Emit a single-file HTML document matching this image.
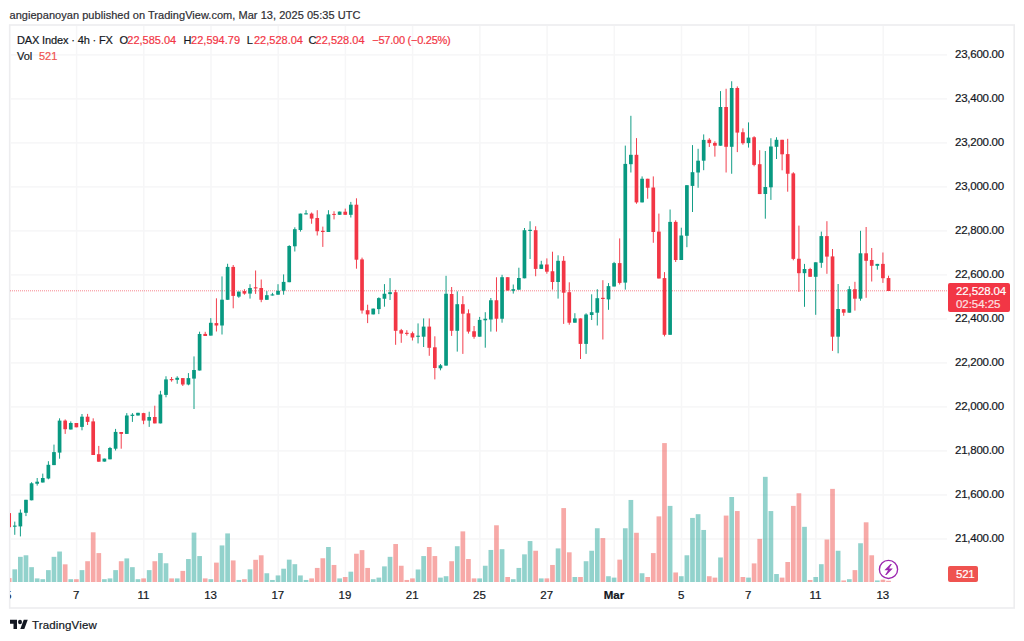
<!DOCTYPE html>
<html><head><meta charset="utf-8"><title>DAX Index chart</title>
<style>
html,body{margin:0;padding:0;background:#fff;}
body{width:1024px;height:641px;position:relative;overflow:hidden;font-family:"Liberation Sans",sans-serif;color:#131722;font-size:12px;-webkit-text-stroke:0.2px;}
.hdr{position:absolute;left:9.5px;top:6.6px;font-size:11px;line-height:16px;white-space:nowrap;color:#2e2e33;letter-spacing:0.04px;}
.box{position:absolute;left:9px;top:25px;width:1005px;height:582px;border:1px solid #e0e3eb;box-sizing:content-box;}
svg{position:absolute;left:0;top:0;}
.clip{position:absolute;left:10px;top:26px;width:937px;height:582px;overflow:hidden;}
.clip svg{left:-10px;top:-26px;}
.leg{position:absolute;left:17px;white-space:nowrap;font-size:11px;line-height:16px;color:#131722;}
.leg.r{color:#f23645;}
.pl{position:absolute;left:955px;width:51px;text-align:left;font-size:11.5px;letter-spacing:-0.25px;line-height:16px;height:16px;white-space:nowrap;}
.tl{position:absolute;top:587px;width:60px;text-align:center;font-size:11.5px;line-height:16px;white-space:nowrap;}
.tl.b{font-weight:bold;}
.ptag{position:absolute;left:948px;top:283px;width:61.7px;height:29px;background:#f23645;border-radius:2px;color:#fff;font-size:11.5px;letter-spacing:-0.25px;line-height:14px;}
.ptag div{position:absolute;left:8px;white-space:nowrap;}
.vtag{position:absolute;left:948px;top:566px;width:30px;height:16px;background:#ef5350;border-radius:2px;color:#fff;font-size:11.5px;letter-spacing:-0.25px;line-height:16px;}
.vtag div{position:absolute;left:8px;top:0;}
.logo{position:absolute;left:10px;top:616px;height:18px;}
.logotxt{position:absolute;left:32px;top:616.1px;font-size:11.5px;letter-spacing:0.15px;line-height:18px;color:#131722;white-space:nowrap;}
</style></head><body>
<div class="hdr">angiepanoyan published on TradingView.com, Mar 13, 2025 05:35 UTC</div>
<svg width="1024" height="641" style="left:0;top:0"><rect x="9.7" y="25" width="1004.5" height="583" fill="none" stroke="#ededef" stroke-width="1.6"/></svg>
<div class="clip"><svg width="1024" height="641" viewBox="0 0 1024 641">
<rect x="10" y="54.12" width="937.2" height="1.5" fill="#f6f6f7"/>
<rect x="10" y="98.13" width="937.2" height="1.5" fill="#f6f6f7"/>
<rect x="10" y="142.14" width="937.2" height="1.5" fill="#f6f6f7"/>
<rect x="10" y="186.14" width="937.2" height="1.5" fill="#f6f6f7"/>
<rect x="10" y="230.15" width="937.2" height="1.5" fill="#f6f6f7"/>
<rect x="10" y="274.16" width="937.2" height="1.5" fill="#f6f6f7"/>
<rect x="10" y="318.17" width="937.2" height="1.5" fill="#f6f6f7"/>
<rect x="10" y="362.18" width="937.2" height="1.5" fill="#f6f6f7"/>
<rect x="10" y="406.18" width="937.2" height="1.5" fill="#f6f6f7"/>
<rect x="10" y="450.19" width="937.2" height="1.5" fill="#f6f6f7"/>
<rect x="10" y="494.20" width="937.2" height="1.5" fill="#f6f6f7"/>
<rect x="10" y="538.21" width="937.2" height="1.5" fill="#f6f6f7"/>
<rect x="75.81" y="26" width="1.5" height="556.5" fill="#f6f6f7"/>
<rect x="143.03" y="26" width="1.5" height="556.5" fill="#f6f6f7"/>
<rect x="210.24" y="26" width="1.5" height="556.5" fill="#f6f6f7"/>
<rect x="277.46" y="26" width="1.5" height="556.5" fill="#f6f6f7"/>
<rect x="344.68" y="26" width="1.5" height="556.5" fill="#f6f6f7"/>
<rect x="411.89" y="26" width="1.5" height="556.5" fill="#f6f6f7"/>
<rect x="479.11" y="26" width="1.5" height="556.5" fill="#f6f6f7"/>
<rect x="546.33" y="26" width="1.5" height="556.5" fill="#f6f6f7"/>
<rect x="613.54" y="26" width="1.5" height="556.5" fill="#f6f6f7"/>
<rect x="680.76" y="26" width="1.5" height="556.5" fill="#f6f6f7"/>
<rect x="747.98" y="26" width="1.5" height="556.5" fill="#f6f6f7"/>
<rect x="815.19" y="26" width="1.5" height="556.5" fill="#f6f6f7"/>
<rect x="882.41" y="26" width="1.5" height="556.5" fill="#f6f6f7"/>
<rect x="6.82" y="578.09" width="4.7" height="3.91" fill="rgba(239,83,80,0.5)"/>
<rect x="12.42" y="569.34" width="4.7" height="12.66" fill="rgba(38,166,154,0.5)"/>
<rect x="18.02" y="556.84" width="4.7" height="25.16" fill="rgba(38,166,154,0.5)"/>
<rect x="23.62" y="555.28" width="4.7" height="26.72" fill="rgba(38,166,154,0.5)"/>
<rect x="29.22" y="567.16" width="4.7" height="14.84" fill="rgba(38,166,154,0.5)"/>
<rect x="34.82" y="578.41" width="4.7" height="3.59" fill="rgba(38,166,154,0.5)"/>
<rect x="40.43" y="579.19" width="4.7" height="2.81" fill="rgba(38,166,154,0.5)"/>
<rect x="46.03" y="570.12" width="4.7" height="11.88" fill="rgba(38,166,154,0.5)"/>
<rect x="51.63" y="556.84" width="4.7" height="25.16" fill="rgba(38,166,154,0.5)"/>
<rect x="57.23" y="551.53" width="4.7" height="30.47" fill="rgba(38,166,154,0.5)"/>
<rect x="62.83" y="564.34" width="4.7" height="17.66" fill="rgba(239,83,80,0.5)"/>
<rect x="68.43" y="579.19" width="4.7" height="2.81" fill="rgba(38,166,154,0.5)"/>
<rect x="74.03" y="579.19" width="4.7" height="2.81" fill="rgba(239,83,80,0.5)"/>
<rect x="79.63" y="570.12" width="4.7" height="11.88" fill="rgba(38,166,154,0.5)"/>
<rect x="85.23" y="561.22" width="4.7" height="20.78" fill="rgba(239,83,80,0.5)"/>
<rect x="90.84" y="532.31" width="4.7" height="49.69" fill="rgba(239,83,80,0.5)"/>
<rect x="96.44" y="553.09" width="4.7" height="28.91" fill="rgba(239,83,80,0.5)"/>
<rect x="102.04" y="579.19" width="4.7" height="2.81" fill="rgba(38,166,154,0.5)"/>
<rect x="107.64" y="578.41" width="4.7" height="3.59" fill="rgba(38,166,154,0.5)"/>
<rect x="113.24" y="570.12" width="4.7" height="11.88" fill="rgba(38,166,154,0.5)"/>
<rect x="118.84" y="561.22" width="4.7" height="20.78" fill="rgba(239,83,80,0.5)"/>
<rect x="124.44" y="558.41" width="4.7" height="23.59" fill="rgba(38,166,154,0.5)"/>
<rect x="130.04" y="567.16" width="4.7" height="14.84" fill="rgba(38,166,154,0.5)"/>
<rect x="135.64" y="579.19" width="4.7" height="2.81" fill="rgba(38,166,154,0.5)"/>
<rect x="141.24" y="578.41" width="4.7" height="3.59" fill="rgba(239,83,80,0.5)"/>
<rect x="146.84" y="570.12" width="4.7" height="11.88" fill="rgba(38,166,154,0.5)"/>
<rect x="152.45" y="561.22" width="4.7" height="20.78" fill="rgba(239,83,80,0.5)"/>
<rect x="158.05" y="553.09" width="4.7" height="28.91" fill="rgba(38,166,154,0.5)"/>
<rect x="163.65" y="563.25" width="4.7" height="18.75" fill="rgba(38,166,154,0.5)"/>
<rect x="169.25" y="578.41" width="4.7" height="3.59" fill="rgba(239,83,80,0.5)"/>
<rect x="174.85" y="578.41" width="4.7" height="3.59" fill="rgba(38,166,154,0.5)"/>
<rect x="180.45" y="570.91" width="4.7" height="11.09" fill="rgba(239,83,80,0.5)"/>
<rect x="186.05" y="559.03" width="4.7" height="22.97" fill="rgba(38,166,154,0.5)"/>
<rect x="191.65" y="532.62" width="4.7" height="49.38" fill="rgba(38,166,154,0.5)"/>
<rect x="197.25" y="556.06" width="4.7" height="25.94" fill="rgba(38,166,154,0.5)"/>
<rect x="202.85" y="578.41" width="4.7" height="3.59" fill="rgba(239,83,80,0.5)"/>
<rect x="208.46" y="579.19" width="4.7" height="2.81" fill="rgba(38,166,154,0.5)"/>
<rect x="214.06" y="562.62" width="4.7" height="19.38" fill="rgba(239,83,80,0.5)"/>
<rect x="219.66" y="545.44" width="4.7" height="36.56" fill="rgba(38,166,154,0.5)"/>
<rect x="225.26" y="533.41" width="4.7" height="48.59" fill="rgba(38,166,154,0.5)"/>
<rect x="230.86" y="560.44" width="4.7" height="21.56" fill="rgba(239,83,80,0.5)"/>
<rect x="236.46" y="579.97" width="4.7" height="2.03" fill="rgba(38,166,154,0.5)"/>
<rect x="242.06" y="579.19" width="4.7" height="2.81" fill="rgba(239,83,80,0.5)"/>
<rect x="247.66" y="569.34" width="4.7" height="12.66" fill="rgba(38,166,154,0.5)"/>
<rect x="253.26" y="559.81" width="4.7" height="22.19" fill="rgba(239,83,80,0.5)"/>
<rect x="258.86" y="555.28" width="4.7" height="26.72" fill="rgba(239,83,80,0.5)"/>
<rect x="264.47" y="573.25" width="4.7" height="8.75" fill="rgba(38,166,154,0.5)"/>
<rect x="270.07" y="579.97" width="4.7" height="2.03" fill="rgba(38,166,154,0.5)"/>
<rect x="275.67" y="575.44" width="4.7" height="6.56" fill="rgba(38,166,154,0.5)"/>
<rect x="281.27" y="568.72" width="4.7" height="13.28" fill="rgba(38,166,154,0.5)"/>
<rect x="286.87" y="559.66" width="4.7" height="22.34" fill="rgba(38,166,154,0.5)"/>
<rect x="292.47" y="564.19" width="4.7" height="17.81" fill="rgba(38,166,154,0.5)"/>
<rect x="298.07" y="575.44" width="4.7" height="6.56" fill="rgba(38,166,154,0.5)"/>
<rect x="303.67" y="579.97" width="4.7" height="2.03" fill="rgba(38,166,154,0.5)"/>
<rect x="309.27" y="578.41" width="4.7" height="3.59" fill="rgba(239,83,80,0.5)"/>
<rect x="314.88" y="567.94" width="4.7" height="14.06" fill="rgba(239,83,80,0.5)"/>
<rect x="320.48" y="558.25" width="4.7" height="23.75" fill="rgba(239,83,80,0.5)"/>
<rect x="326.08" y="547.00" width="4.7" height="35.00" fill="rgba(38,166,154,0.5)"/>
<rect x="331.68" y="564.97" width="4.7" height="17.03" fill="rgba(239,83,80,0.5)"/>
<rect x="337.28" y="578.41" width="4.7" height="3.59" fill="rgba(38,166,154,0.5)"/>
<rect x="342.88" y="577.00" width="4.7" height="5.00" fill="rgba(239,83,80,0.5)"/>
<rect x="348.48" y="571.69" width="4.7" height="10.31" fill="rgba(38,166,154,0.5)"/>
<rect x="354.08" y="553.72" width="4.7" height="28.28" fill="rgba(239,83,80,0.5)"/>
<rect x="359.68" y="550.12" width="4.7" height="31.88" fill="rgba(239,83,80,0.5)"/>
<rect x="365.28" y="567.94" width="4.7" height="14.06" fill="rgba(239,83,80,0.5)"/>
<rect x="370.88" y="579.19" width="4.7" height="2.81" fill="rgba(38,166,154,0.5)"/>
<rect x="376.49" y="577.62" width="4.7" height="4.38" fill="rgba(38,166,154,0.5)"/>
<rect x="382.09" y="566.38" width="4.7" height="15.62" fill="rgba(38,166,154,0.5)"/>
<rect x="387.69" y="556.84" width="4.7" height="25.16" fill="rgba(38,166,154,0.5)"/>
<rect x="393.29" y="544.03" width="4.7" height="37.97" fill="rgba(239,83,80,0.5)"/>
<rect x="398.89" y="565.75" width="4.7" height="16.25" fill="rgba(239,83,80,0.5)"/>
<rect x="404.49" y="579.97" width="4.7" height="2.03" fill="rgba(239,83,80,0.5)"/>
<rect x="410.09" y="578.41" width="4.7" height="3.59" fill="rgba(239,83,80,0.5)"/>
<rect x="415.69" y="569.50" width="4.7" height="12.50" fill="rgba(38,166,154,0.5)"/>
<rect x="421.29" y="556.06" width="4.7" height="25.94" fill="rgba(38,166,154,0.5)"/>
<rect x="426.89" y="547.00" width="4.7" height="35.00" fill="rgba(239,83,80,0.5)"/>
<rect x="432.50" y="556.06" width="4.7" height="25.94" fill="rgba(239,83,80,0.5)"/>
<rect x="438.10" y="577.62" width="4.7" height="4.38" fill="rgba(38,166,154,0.5)"/>
<rect x="443.70" y="576.22" width="4.7" height="5.78" fill="rgba(38,166,154,0.5)"/>
<rect x="449.30" y="561.22" width="4.7" height="20.78" fill="rgba(239,83,80,0.5)"/>
<rect x="454.90" y="546.22" width="4.7" height="35.78" fill="rgba(38,166,154,0.5)"/>
<rect x="460.50" y="531.38" width="4.7" height="50.62" fill="rgba(239,83,80,0.5)"/>
<rect x="466.10" y="559.03" width="4.7" height="22.97" fill="rgba(239,83,80,0.5)"/>
<rect x="471.70" y="578.41" width="4.7" height="3.59" fill="rgba(239,83,80,0.5)"/>
<rect x="477.30" y="578.41" width="4.7" height="3.59" fill="rgba(38,166,154,0.5)"/>
<rect x="482.90" y="565.75" width="4.7" height="16.25" fill="rgba(38,166,154,0.5)"/>
<rect x="488.51" y="549.97" width="4.7" height="32.03" fill="rgba(38,166,154,0.5)"/>
<rect x="494.11" y="525.28" width="4.7" height="56.72" fill="rgba(239,83,80,0.5)"/>
<rect x="499.71" y="549.19" width="4.7" height="32.81" fill="rgba(38,166,154,0.5)"/>
<rect x="505.31" y="577.00" width="4.7" height="5.00" fill="rgba(239,83,80,0.5)"/>
<rect x="510.91" y="579.19" width="4.7" height="2.81" fill="rgba(38,166,154,0.5)"/>
<rect x="516.51" y="567.94" width="4.7" height="14.06" fill="rgba(38,166,154,0.5)"/>
<rect x="522.11" y="554.34" width="4.7" height="27.66" fill="rgba(38,166,154,0.5)"/>
<rect x="527.71" y="541.06" width="4.7" height="40.94" fill="rgba(38,166,154,0.5)"/>
<rect x="533.31" y="550.75" width="4.7" height="31.25" fill="rgba(239,83,80,0.5)"/>
<rect x="538.91" y="578.41" width="4.7" height="3.59" fill="rgba(38,166,154,0.5)"/>
<rect x="544.52" y="578.41" width="4.7" height="3.59" fill="rgba(239,83,80,0.5)"/>
<rect x="550.12" y="564.97" width="4.7" height="17.03" fill="rgba(239,83,80,0.5)"/>
<rect x="555.72" y="548.41" width="4.7" height="33.59" fill="rgba(38,166,154,0.5)"/>
<rect x="561.32" y="508.09" width="4.7" height="73.91" fill="rgba(239,83,80,0.5)"/>
<rect x="566.92" y="552.31" width="4.7" height="29.69" fill="rgba(239,83,80,0.5)"/>
<rect x="572.52" y="577.00" width="4.7" height="5.00" fill="rgba(38,166,154,0.5)"/>
<rect x="578.12" y="577.00" width="4.7" height="5.00" fill="rgba(239,83,80,0.5)"/>
<rect x="583.72" y="561.22" width="4.7" height="20.78" fill="rgba(38,166,154,0.5)"/>
<rect x="589.32" y="550.75" width="4.7" height="31.25" fill="rgba(38,166,154,0.5)"/>
<rect x="594.92" y="528.25" width="4.7" height="53.75" fill="rgba(38,166,154,0.5)"/>
<rect x="600.53" y="538.09" width="4.7" height="43.91" fill="rgba(239,83,80,0.5)"/>
<rect x="606.13" y="576.22" width="4.7" height="5.78" fill="rgba(38,166,154,0.5)"/>
<rect x="611.73" y="577.62" width="4.7" height="4.38" fill="rgba(38,166,154,0.5)"/>
<rect x="617.33" y="559.66" width="4.7" height="22.34" fill="rgba(239,83,80,0.5)"/>
<rect x="622.93" y="528.25" width="4.7" height="53.75" fill="rgba(38,166,154,0.5)"/>
<rect x="628.53" y="499.97" width="4.7" height="82.03" fill="rgba(38,166,154,0.5)"/>
<rect x="634.13" y="532.78" width="4.7" height="49.22" fill="rgba(239,83,80,0.5)"/>
<rect x="639.73" y="573.25" width="4.7" height="8.75" fill="rgba(38,166,154,0.5)"/>
<rect x="645.33" y="577.00" width="4.7" height="5.00" fill="rgba(239,83,80,0.5)"/>
<rect x="650.93" y="553.09" width="4.7" height="28.91" fill="rgba(239,83,80,0.5)"/>
<rect x="656.54" y="516.38" width="4.7" height="65.62" fill="rgba(239,83,80,0.5)"/>
<rect x="662.14" y="443.09" width="4.7" height="138.91" fill="rgba(239,83,80,0.5)"/>
<rect x="667.74" y="505.91" width="4.7" height="76.09" fill="rgba(38,166,154,0.5)"/>
<rect x="673.34" y="572.47" width="4.7" height="9.53" fill="rgba(239,83,80,0.5)"/>
<rect x="678.94" y="576.22" width="4.7" height="5.78" fill="rgba(38,166,154,0.5)"/>
<rect x="684.54" y="555.28" width="4.7" height="26.72" fill="rgba(38,166,154,0.5)"/>
<rect x="690.14" y="517.94" width="4.7" height="64.06" fill="rgba(38,166,154,0.5)"/>
<rect x="695.74" y="514.19" width="4.7" height="67.81" fill="rgba(38,166,154,0.5)"/>
<rect x="701.34" y="529.97" width="4.7" height="52.03" fill="rgba(38,166,154,0.5)"/>
<rect x="706.94" y="576.22" width="4.7" height="5.78" fill="rgba(239,83,80,0.5)"/>
<rect x="712.55" y="577.62" width="4.7" height="4.38" fill="rgba(239,83,80,0.5)"/>
<rect x="718.15" y="557.47" width="4.7" height="24.53" fill="rgba(38,166,154,0.5)"/>
<rect x="723.75" y="515.59" width="4.7" height="66.41" fill="rgba(239,83,80,0.5)"/>
<rect x="729.35" y="497.00" width="4.7" height="85.00" fill="rgba(38,166,154,0.5)"/>
<rect x="734.95" y="511.06" width="4.7" height="70.94" fill="rgba(239,83,80,0.5)"/>
<rect x="740.55" y="577.00" width="4.7" height="5.00" fill="rgba(239,83,80,0.5)"/>
<rect x="746.15" y="577.62" width="4.7" height="4.38" fill="rgba(38,166,154,0.5)"/>
<rect x="751.75" y="563.41" width="4.7" height="18.59" fill="rgba(239,83,80,0.5)"/>
<rect x="757.35" y="538.88" width="4.7" height="43.12" fill="rgba(239,83,80,0.5)"/>
<rect x="762.95" y="476.84" width="4.7" height="105.16" fill="rgba(38,166,154,0.5)"/>
<rect x="768.56" y="511.06" width="4.7" height="70.94" fill="rgba(38,166,154,0.5)"/>
<rect x="774.16" y="574.03" width="4.7" height="7.97" fill="rgba(38,166,154,0.5)"/>
<rect x="779.76" y="577.62" width="4.7" height="4.38" fill="rgba(239,83,80,0.5)"/>
<rect x="785.36" y="562.00" width="4.7" height="20.00" fill="rgba(239,83,80,0.5)"/>
<rect x="790.96" y="505.91" width="4.7" height="76.09" fill="rgba(239,83,80,0.5)"/>
<rect x="796.56" y="493.25" width="4.7" height="88.75" fill="rgba(239,83,80,0.5)"/>
<rect x="802.16" y="526.84" width="4.7" height="55.16" fill="rgba(38,166,154,0.5)"/>
<rect x="807.76" y="579.97" width="4.7" height="2.03" fill="rgba(239,83,80,0.5)"/>
<rect x="813.36" y="577.00" width="4.7" height="5.00" fill="rgba(38,166,154,0.5)"/>
<rect x="818.96" y="564.19" width="4.7" height="17.81" fill="rgba(38,166,154,0.5)"/>
<rect x="824.57" y="539.50" width="4.7" height="42.50" fill="rgba(239,83,80,0.5)"/>
<rect x="830.17" y="488.88" width="4.7" height="93.12" fill="rgba(239,83,80,0.5)"/>
<rect x="835.77" y="550.75" width="4.7" height="31.25" fill="rgba(38,166,154,0.5)"/>
<rect x="841.37" y="580.44" width="4.7" height="1.56" fill="rgba(239,83,80,0.5)"/>
<rect x="846.97" y="579.19" width="4.7" height="2.81" fill="rgba(38,166,154,0.5)"/>
<rect x="852.57" y="570.12" width="4.7" height="11.88" fill="rgba(239,83,80,0.5)"/>
<rect x="858.17" y="543.25" width="4.7" height="38.75" fill="rgba(38,166,154,0.5)"/>
<rect x="863.77" y="522.31" width="4.7" height="59.69" fill="rgba(239,83,80,0.5)"/>
<rect x="869.37" y="555.28" width="4.7" height="26.72" fill="rgba(239,83,80,0.5)"/>
<rect x="874.97" y="580.44" width="4.7" height="1.56" fill="rgba(38,166,154,0.5)"/>
<rect x="880.58" y="579.66" width="4.7" height="2.34" fill="rgba(239,83,80,0.5)"/>
<rect x="886.18" y="580.75" width="4.7" height="1.25" fill="rgba(239,83,80,0.5)"/>
<line x1="10" x2="947" y1="290.8" y2="290.8" stroke="#f23645" stroke-width="1" stroke-opacity="0.6" stroke-dasharray="1 1"/>
<rect x="8.70" y="513.10" width="0.95" height="14.10" fill="#f23645"/>
<rect x="7.32" y="513.10" width="3.7" height="14.10" fill="#f23645"/>
<rect x="14.30" y="521.60" width="0.95" height="13.20" fill="#089981"/>
<rect x="12.92" y="525.60" width="3.7" height="1.10" fill="#089981"/>
<rect x="19.90" y="509.50" width="0.95" height="26.90" fill="#089981"/>
<rect x="18.52" y="512.70" width="3.7" height="13.70" fill="#089981"/>
<rect x="25.50" y="499.80" width="0.95" height="16.30" fill="#089981"/>
<rect x="24.12" y="499.80" width="3.7" height="13.00" fill="#089981"/>
<rect x="31.10" y="482.20" width="0.95" height="18.10" fill="#089981"/>
<rect x="29.72" y="483.30" width="3.7" height="17.00" fill="#089981"/>
<rect x="36.70" y="478.00" width="0.95" height="7.60" fill="#089981"/>
<rect x="35.32" y="481.70" width="3.7" height="2.05" fill="#089981"/>
<rect x="42.30" y="473.60" width="0.95" height="8.90" fill="#089981"/>
<rect x="40.93" y="478.00" width="3.7" height="4.50" fill="#089981"/>
<rect x="47.90" y="461.20" width="0.95" height="18.10" fill="#089981"/>
<rect x="46.53" y="464.80" width="3.7" height="13.70" fill="#089981"/>
<rect x="53.50" y="444.60" width="0.95" height="20.50" fill="#089981"/>
<rect x="52.13" y="452.10" width="3.7" height="13.00" fill="#089981"/>
<rect x="59.10" y="418.30" width="0.95" height="40.40" fill="#089981"/>
<rect x="57.73" y="420.60" width="3.7" height="32.00" fill="#089981"/>
<rect x="64.70" y="419.40" width="0.95" height="14.50" fill="#f23645"/>
<rect x="63.33" y="420.60" width="3.7" height="8.60" fill="#f23645"/>
<rect x="70.31" y="421.40" width="0.95" height="8.10" fill="#089981"/>
<rect x="68.93" y="423.00" width="3.7" height="6.50" fill="#089981"/>
<rect x="75.91" y="423.00" width="0.95" height="4.30" fill="#f23645"/>
<rect x="74.53" y="423.00" width="3.7" height="4.30" fill="#f23645"/>
<rect x="81.51" y="414.00" width="0.95" height="16.30" fill="#089981"/>
<rect x="80.13" y="416.70" width="3.7" height="10.20" fill="#089981"/>
<rect x="87.11" y="413.90" width="0.95" height="11.10" fill="#f23645"/>
<rect x="85.73" y="416.70" width="3.7" height="5.20" fill="#f23645"/>
<rect x="92.71" y="418.30" width="0.95" height="36.70" fill="#f23645"/>
<rect x="91.34" y="421.40" width="3.7" height="33.60" fill="#f23645"/>
<rect x="98.31" y="445.90" width="0.95" height="15.80" fill="#f23645"/>
<rect x="96.94" y="454.20" width="3.7" height="7.50" fill="#f23645"/>
<rect x="103.91" y="458.60" width="0.95" height="3.00" fill="#089981"/>
<rect x="102.54" y="458.60" width="3.7" height="3.00" fill="#089981"/>
<rect x="109.51" y="446.90" width="0.95" height="12.40" fill="#089981"/>
<rect x="108.14" y="448.00" width="3.7" height="11.30" fill="#089981"/>
<rect x="115.11" y="428.90" width="0.95" height="21.60" fill="#089981"/>
<rect x="113.74" y="431.90" width="3.7" height="16.80" fill="#089981"/>
<rect x="120.72" y="432.00" width="0.95" height="16.70" fill="#f23645"/>
<rect x="119.34" y="432.00" width="3.7" height="1.90" fill="#f23645"/>
<rect x="126.32" y="413.10" width="0.95" height="20.80" fill="#089981"/>
<rect x="124.94" y="415.50" width="3.7" height="18.40" fill="#089981"/>
<rect x="131.92" y="413.10" width="0.95" height="8.80" fill="#089981"/>
<rect x="130.54" y="414.70" width="3.7" height="1.20" fill="#089981"/>
<rect x="137.52" y="412.80" width="0.95" height="2.70" fill="#089981"/>
<rect x="136.14" y="412.80" width="3.7" height="2.70" fill="#089981"/>
<rect x="143.12" y="412.80" width="0.95" height="11.40" fill="#f23645"/>
<rect x="141.74" y="413.10" width="3.7" height="7.50" fill="#f23645"/>
<rect x="148.72" y="411.70" width="0.95" height="15.20" fill="#089981"/>
<rect x="147.34" y="417.00" width="3.7" height="3.60" fill="#089981"/>
<rect x="154.32" y="405.70" width="0.95" height="17.70" fill="#f23645"/>
<rect x="152.95" y="417.00" width="3.7" height="6.40" fill="#f23645"/>
<rect x="159.92" y="390.80" width="0.95" height="32.60" fill="#089981"/>
<rect x="158.55" y="394.50" width="3.7" height="28.90" fill="#089981"/>
<rect x="165.52" y="376.25" width="0.95" height="21.05" fill="#089981"/>
<rect x="164.15" y="379.40" width="3.7" height="15.50" fill="#089981"/>
<rect x="171.12" y="377.00" width="0.95" height="4.70" fill="#f23645"/>
<rect x="169.75" y="379.00" width="3.7" height="1.20" fill="#f23645"/>
<rect x="176.72" y="376.25" width="0.95" height="7.50" fill="#089981"/>
<rect x="175.35" y="377.80" width="3.7" height="2.00" fill="#089981"/>
<rect x="182.33" y="378.10" width="0.95" height="7.90" fill="#f23645"/>
<rect x="180.95" y="378.10" width="3.7" height="6.40" fill="#f23645"/>
<rect x="187.93" y="373.10" width="0.95" height="12.20" fill="#089981"/>
<rect x="186.55" y="378.10" width="3.7" height="6.40" fill="#089981"/>
<rect x="193.53" y="356.40" width="0.95" height="52.60" fill="#089981"/>
<rect x="192.15" y="370.00" width="3.7" height="8.60" fill="#089981"/>
<rect x="199.13" y="331.70" width="0.95" height="38.80" fill="#089981"/>
<rect x="197.75" y="334.00" width="3.7" height="36.50" fill="#089981"/>
<rect x="204.73" y="331.80" width="0.95" height="4.20" fill="#f23645"/>
<rect x="203.35" y="333.90" width="3.7" height="2.10" fill="#f23645"/>
<rect x="210.33" y="318.10" width="0.95" height="17.50" fill="#089981"/>
<rect x="208.96" y="322.80" width="3.7" height="12.80" fill="#089981"/>
<rect x="215.93" y="298.30" width="0.95" height="33.20" fill="#f23645"/>
<rect x="214.56" y="323.10" width="3.7" height="2.40" fill="#f23645"/>
<rect x="221.53" y="276.40" width="0.95" height="58.10" fill="#089981"/>
<rect x="220.16" y="299.70" width="3.7" height="25.80" fill="#089981"/>
<rect x="227.13" y="263.75" width="0.95" height="36.05" fill="#089981"/>
<rect x="225.76" y="266.90" width="3.7" height="32.90" fill="#089981"/>
<rect x="232.73" y="265.00" width="0.95" height="43.30" fill="#f23645"/>
<rect x="231.36" y="266.90" width="3.7" height="29.00" fill="#f23645"/>
<rect x="238.34" y="291.60" width="0.95" height="6.20" fill="#089981"/>
<rect x="236.96" y="291.60" width="3.7" height="5.00" fill="#089981"/>
<rect x="243.94" y="289.20" width="0.95" height="5.50" fill="#f23645"/>
<rect x="242.56" y="291.10" width="3.7" height="2.50" fill="#f23645"/>
<rect x="249.54" y="284.20" width="0.95" height="14.40" fill="#089981"/>
<rect x="248.16" y="288.00" width="3.7" height="5.60" fill="#089981"/>
<rect x="255.14" y="270.50" width="0.95" height="23.40" fill="#f23645"/>
<rect x="253.76" y="287.30" width="3.7" height="1.10" fill="#f23645"/>
<rect x="260.74" y="279.50" width="0.95" height="22.70" fill="#f23645"/>
<rect x="259.36" y="288.00" width="3.7" height="11.80" fill="#f23645"/>
<rect x="266.34" y="291.10" width="0.95" height="8.70" fill="#089981"/>
<rect x="264.97" y="295.20" width="3.7" height="4.60" fill="#089981"/>
<rect x="271.94" y="292.80" width="0.95" height="2.70" fill="#089981"/>
<rect x="270.57" y="294.40" width="3.7" height="1.10" fill="#089981"/>
<rect x="277.54" y="284.20" width="0.95" height="10.50" fill="#089981"/>
<rect x="276.17" y="290.80" width="3.7" height="3.90" fill="#089981"/>
<rect x="283.14" y="274.40" width="0.95" height="20.30" fill="#089981"/>
<rect x="281.77" y="281.90" width="3.7" height="8.90" fill="#089981"/>
<rect x="288.75" y="245.20" width="0.95" height="37.00" fill="#089981"/>
<rect x="287.37" y="246.00" width="3.7" height="36.20" fill="#089981"/>
<rect x="294.35" y="227.30" width="0.95" height="24.20" fill="#089981"/>
<rect x="292.97" y="229.20" width="3.7" height="17.10" fill="#089981"/>
<rect x="299.95" y="213.60" width="0.95" height="18.00" fill="#089981"/>
<rect x="298.57" y="213.60" width="3.7" height="16.40" fill="#089981"/>
<rect x="305.55" y="210.20" width="0.95" height="4.20" fill="#089981"/>
<rect x="304.17" y="213.30" width="3.7" height="1.10" fill="#089981"/>
<rect x="311.15" y="212.50" width="0.95" height="11.25" fill="#f23645"/>
<rect x="309.77" y="213.60" width="3.7" height="5.00" fill="#f23645"/>
<rect x="316.75" y="210.20" width="0.95" height="25.30" fill="#f23645"/>
<rect x="315.38" y="218.00" width="3.7" height="13.25" fill="#f23645"/>
<rect x="322.35" y="226.60" width="0.95" height="20.30" fill="#f23645"/>
<rect x="320.98" y="230.80" width="3.7" height="1.20" fill="#f23645"/>
<rect x="327.95" y="210.20" width="0.95" height="21.80" fill="#089981"/>
<rect x="326.58" y="214.40" width="3.7" height="17.60" fill="#089981"/>
<rect x="333.55" y="211.25" width="0.95" height="8.15" fill="#f23645"/>
<rect x="332.18" y="213.90" width="3.7" height="1.00" fill="#f23645"/>
<rect x="339.15" y="211.60" width="0.95" height="3.20" fill="#089981"/>
<rect x="337.78" y="211.60" width="3.7" height="3.20" fill="#089981"/>
<rect x="344.75" y="208.60" width="0.95" height="6.20" fill="#f23645"/>
<rect x="343.38" y="211.70" width="3.7" height="3.10" fill="#f23645"/>
<rect x="350.36" y="201.90" width="0.95" height="15.60" fill="#089981"/>
<rect x="348.98" y="204.70" width="3.7" height="10.10" fill="#089981"/>
<rect x="355.96" y="198.30" width="0.95" height="70.40" fill="#f23645"/>
<rect x="354.58" y="204.70" width="3.7" height="55.00" fill="#f23645"/>
<rect x="361.56" y="257.60" width="0.95" height="56.00" fill="#f23645"/>
<rect x="360.18" y="259.40" width="3.7" height="51.10" fill="#f23645"/>
<rect x="367.16" y="304.70" width="0.95" height="18.40" fill="#f23645"/>
<rect x="365.78" y="310.20" width="3.7" height="4.20" fill="#f23645"/>
<rect x="372.76" y="308.60" width="0.95" height="5.80" fill="#089981"/>
<rect x="371.38" y="308.60" width="3.7" height="5.80" fill="#089981"/>
<rect x="378.36" y="297.30" width="0.95" height="16.80" fill="#089981"/>
<rect x="376.99" y="298.10" width="3.7" height="11.00" fill="#089981"/>
<rect x="383.96" y="284.10" width="0.95" height="22.60" fill="#089981"/>
<rect x="382.59" y="293.75" width="3.7" height="5.00" fill="#089981"/>
<rect x="389.56" y="278.10" width="0.95" height="21.90" fill="#089981"/>
<rect x="388.19" y="292.20" width="3.7" height="1.90" fill="#089981"/>
<rect x="395.16" y="289.80" width="0.95" height="55.00" fill="#f23645"/>
<rect x="393.79" y="292.20" width="3.7" height="38.60" fill="#f23645"/>
<rect x="400.76" y="328.90" width="0.95" height="13.90" fill="#f23645"/>
<rect x="399.39" y="330.20" width="3.7" height="3.40" fill="#f23645"/>
<rect x="406.37" y="330.20" width="0.95" height="5.40" fill="#f23645"/>
<rect x="404.99" y="332.80" width="3.7" height="1.10" fill="#f23645"/>
<rect x="411.97" y="331.60" width="0.95" height="8.90" fill="#f23645"/>
<rect x="410.59" y="333.20" width="3.7" height="4.30" fill="#f23645"/>
<rect x="417.57" y="323.40" width="0.95" height="20.00" fill="#089981"/>
<rect x="416.19" y="335.70" width="3.7" height="1.10" fill="#089981"/>
<rect x="423.17" y="318.40" width="0.95" height="28.60" fill="#089981"/>
<rect x="421.79" y="326.60" width="3.7" height="10.10" fill="#089981"/>
<rect x="428.77" y="318.40" width="0.95" height="37.40" fill="#f23645"/>
<rect x="427.39" y="326.60" width="3.7" height="21.20" fill="#f23645"/>
<rect x="434.37" y="336.30" width="0.95" height="43.10" fill="#f23645"/>
<rect x="433.00" y="347.30" width="3.7" height="20.70" fill="#f23645"/>
<rect x="439.97" y="364.00" width="0.95" height="6.30" fill="#089981"/>
<rect x="438.60" y="365.30" width="3.7" height="3.00" fill="#089981"/>
<rect x="445.57" y="275.80" width="0.95" height="89.80" fill="#089981"/>
<rect x="444.20" y="293.75" width="3.7" height="71.85" fill="#089981"/>
<rect x="451.17" y="287.00" width="0.95" height="48.90" fill="#f23645"/>
<rect x="449.80" y="294.00" width="3.7" height="36.80" fill="#f23645"/>
<rect x="456.77" y="291.40" width="0.95" height="60.20" fill="#089981"/>
<rect x="455.40" y="304.20" width="3.7" height="26.60" fill="#089981"/>
<rect x="462.38" y="296.10" width="0.95" height="57.80" fill="#f23645"/>
<rect x="461.00" y="304.20" width="3.7" height="9.50" fill="#f23645"/>
<rect x="467.98" y="309.40" width="0.95" height="24.20" fill="#f23645"/>
<rect x="466.60" y="313.30" width="3.7" height="18.30" fill="#f23645"/>
<rect x="473.58" y="326.00" width="0.95" height="12.75" fill="#f23645"/>
<rect x="472.20" y="331.25" width="3.7" height="5.55" fill="#f23645"/>
<rect x="479.18" y="316.90" width="0.95" height="19.80" fill="#089981"/>
<rect x="477.80" y="319.90" width="3.7" height="16.80" fill="#089981"/>
<rect x="484.78" y="312.20" width="0.95" height="35.50" fill="#089981"/>
<rect x="483.40" y="318.75" width="3.7" height="1.55" fill="#089981"/>
<rect x="490.38" y="298.00" width="0.95" height="33.60" fill="#089981"/>
<rect x="489.01" y="300.25" width="3.7" height="19.25" fill="#089981"/>
<rect x="495.98" y="277.25" width="0.95" height="54.35" fill="#f23645"/>
<rect x="494.61" y="300.25" width="3.7" height="18.50" fill="#f23645"/>
<rect x="501.58" y="274.80" width="0.95" height="47.90" fill="#089981"/>
<rect x="500.21" y="277.20" width="3.7" height="41.55" fill="#089981"/>
<rect x="507.18" y="277.20" width="0.95" height="13.30" fill="#f23645"/>
<rect x="505.81" y="277.20" width="3.7" height="13.30" fill="#f23645"/>
<rect x="512.78" y="284.50" width="0.95" height="9.10" fill="#089981"/>
<rect x="511.41" y="289.20" width="3.7" height="1.60" fill="#089981"/>
<rect x="518.39" y="267.70" width="0.95" height="22.00" fill="#089981"/>
<rect x="517.01" y="278.00" width="3.7" height="11.70" fill="#089981"/>
<rect x="523.99" y="228.00" width="0.95" height="50.30" fill="#089981"/>
<rect x="522.61" y="230.20" width="3.7" height="48.10" fill="#089981"/>
<rect x="529.59" y="221.25" width="0.95" height="37.75" fill="#089981"/>
<rect x="528.21" y="229.80" width="3.7" height="1.20" fill="#089981"/>
<rect x="535.19" y="226.25" width="0.95" height="50.00" fill="#f23645"/>
<rect x="533.81" y="230.20" width="3.7" height="38.70" fill="#f23645"/>
<rect x="540.79" y="260.80" width="0.95" height="8.10" fill="#089981"/>
<rect x="539.41" y="264.50" width="3.7" height="4.40" fill="#089981"/>
<rect x="546.39" y="258.40" width="0.95" height="15.30" fill="#f23645"/>
<rect x="545.02" y="264.50" width="3.7" height="7.20" fill="#f23645"/>
<rect x="551.99" y="251.70" width="0.95" height="37.90" fill="#f23645"/>
<rect x="550.62" y="271.25" width="3.7" height="10.75" fill="#f23645"/>
<rect x="557.59" y="255.30" width="0.95" height="43.30" fill="#089981"/>
<rect x="556.22" y="260.80" width="3.7" height="21.20" fill="#089981"/>
<rect x="563.19" y="256.10" width="0.95" height="67.80" fill="#f23645"/>
<rect x="561.82" y="260.80" width="3.7" height="31.90" fill="#f23645"/>
<rect x="568.79" y="282.30" width="0.95" height="42.40" fill="#f23645"/>
<rect x="567.42" y="292.20" width="3.7" height="30.50" fill="#f23645"/>
<rect x="574.40" y="313.20" width="0.95" height="9.50" fill="#089981"/>
<rect x="573.02" y="318.40" width="3.7" height="4.30" fill="#089981"/>
<rect x="580.00" y="318.40" width="0.95" height="40.60" fill="#f23645"/>
<rect x="578.62" y="318.40" width="3.7" height="25.50" fill="#f23645"/>
<rect x="585.60" y="313.30" width="0.95" height="40.60" fill="#089981"/>
<rect x="584.22" y="314.50" width="3.7" height="29.40" fill="#089981"/>
<rect x="591.20" y="294.30" width="0.95" height="25.70" fill="#089981"/>
<rect x="589.82" y="312.20" width="3.7" height="2.80" fill="#089981"/>
<rect x="596.80" y="289.20" width="0.95" height="36.30" fill="#089981"/>
<rect x="595.42" y="298.20" width="3.7" height="14.50" fill="#089981"/>
<rect x="602.40" y="280.20" width="0.95" height="59.30" fill="#f23645"/>
<rect x="601.03" y="297.80" width="3.7" height="1.20" fill="#f23645"/>
<rect x="608.00" y="283.10" width="0.95" height="26.70" fill="#089981"/>
<rect x="606.63" y="286.10" width="3.7" height="13.30" fill="#089981"/>
<rect x="613.60" y="261.90" width="0.95" height="24.60" fill="#089981"/>
<rect x="612.23" y="263.10" width="3.7" height="23.40" fill="#089981"/>
<rect x="619.20" y="238.40" width="0.95" height="46.10" fill="#f23645"/>
<rect x="617.83" y="263.10" width="3.7" height="19.80" fill="#f23645"/>
<rect x="624.80" y="145.60" width="0.95" height="144.00" fill="#089981"/>
<rect x="623.43" y="163.90" width="3.7" height="118.70" fill="#089981"/>
<rect x="630.41" y="115.80" width="0.95" height="56.70" fill="#089981"/>
<rect x="629.03" y="154.80" width="3.7" height="9.40" fill="#089981"/>
<rect x="636.01" y="138.10" width="0.95" height="65.65" fill="#f23645"/>
<rect x="634.63" y="154.80" width="3.7" height="47.60" fill="#f23645"/>
<rect x="641.61" y="176.40" width="0.95" height="26.00" fill="#089981"/>
<rect x="640.23" y="178.75" width="3.7" height="23.65" fill="#089981"/>
<rect x="647.21" y="178.75" width="0.95" height="20.00" fill="#f23645"/>
<rect x="645.83" y="178.75" width="3.7" height="9.00" fill="#f23645"/>
<rect x="652.81" y="176.40" width="0.95" height="66.40" fill="#f23645"/>
<rect x="651.43" y="187.50" width="3.7" height="44.50" fill="#f23645"/>
<rect x="658.41" y="213.60" width="0.95" height="64.90" fill="#f23645"/>
<rect x="657.04" y="231.60" width="3.7" height="46.90" fill="#f23645"/>
<rect x="664.01" y="272.10" width="0.95" height="64.30" fill="#f23645"/>
<rect x="662.64" y="278.10" width="3.7" height="56.70" fill="#f23645"/>
<rect x="669.61" y="209.50" width="0.95" height="125.30" fill="#089981"/>
<rect x="668.24" y="221.90" width="3.7" height="112.90" fill="#089981"/>
<rect x="675.21" y="220.30" width="0.95" height="41.70" fill="#f23645"/>
<rect x="673.84" y="221.90" width="3.7" height="38.10" fill="#f23645"/>
<rect x="680.81" y="227.70" width="0.95" height="32.30" fill="#089981"/>
<rect x="679.44" y="235.50" width="3.7" height="24.50" fill="#089981"/>
<rect x="686.42" y="185.20" width="0.95" height="62.00" fill="#089981"/>
<rect x="685.04" y="185.20" width="3.7" height="50.60" fill="#089981"/>
<rect x="692.02" y="145.10" width="0.95" height="66.90" fill="#089981"/>
<rect x="690.64" y="172.20" width="3.7" height="13.70" fill="#089981"/>
<rect x="697.62" y="148.80" width="0.95" height="38.95" fill="#089981"/>
<rect x="696.24" y="160.70" width="3.7" height="11.80" fill="#089981"/>
<rect x="703.22" y="134.40" width="0.95" height="35.80" fill="#089981"/>
<rect x="701.84" y="139.90" width="3.7" height="20.80" fill="#089981"/>
<rect x="708.82" y="138.20" width="0.95" height="8.75" fill="#f23645"/>
<rect x="707.44" y="139.75" width="3.7" height="3.35" fill="#f23645"/>
<rect x="714.42" y="141.30" width="0.95" height="15.35" fill="#f23645"/>
<rect x="713.05" y="142.90" width="3.7" height="2.80" fill="#f23645"/>
<rect x="720.02" y="91.10" width="0.95" height="54.60" fill="#089981"/>
<rect x="718.65" y="107.00" width="3.7" height="38.70" fill="#089981"/>
<rect x="725.62" y="88.75" width="0.95" height="83.75" fill="#f23645"/>
<rect x="724.25" y="107.00" width="3.7" height="39.80" fill="#f23645"/>
<rect x="731.22" y="81.25" width="0.95" height="92.50" fill="#089981"/>
<rect x="729.85" y="88.00" width="3.7" height="58.80" fill="#089981"/>
<rect x="736.82" y="86.40" width="0.95" height="65.70" fill="#f23645"/>
<rect x="735.45" y="88.00" width="3.7" height="44.60" fill="#f23645"/>
<rect x="742.43" y="128.35" width="0.95" height="16.35" fill="#f23645"/>
<rect x="741.05" y="132.25" width="3.7" height="10.95" fill="#f23645"/>
<rect x="748.03" y="122.40" width="0.95" height="25.20" fill="#089981"/>
<rect x="746.65" y="137.60" width="3.7" height="5.50" fill="#089981"/>
<rect x="753.63" y="136.20" width="0.95" height="30.10" fill="#f23645"/>
<rect x="752.25" y="137.25" width="3.7" height="27.65" fill="#f23645"/>
<rect x="759.23" y="150.20" width="0.95" height="43.86" fill="#f23645"/>
<rect x="757.85" y="164.20" width="3.7" height="29.86" fill="#f23645"/>
<rect x="764.83" y="151.00" width="0.95" height="67.70" fill="#089981"/>
<rect x="763.45" y="187.00" width="3.7" height="7.00" fill="#089981"/>
<rect x="770.43" y="138.20" width="0.95" height="61.70" fill="#089981"/>
<rect x="769.06" y="146.50" width="3.7" height="40.80" fill="#089981"/>
<rect x="776.03" y="137.25" width="0.95" height="21.75" fill="#089981"/>
<rect x="774.66" y="139.80" width="3.7" height="7.00" fill="#089981"/>
<rect x="781.63" y="139.80" width="0.95" height="30.50" fill="#f23645"/>
<rect x="780.26" y="139.80" width="3.7" height="14.50" fill="#f23645"/>
<rect x="787.23" y="138.80" width="0.95" height="52.90" fill="#f23645"/>
<rect x="785.86" y="154.10" width="3.7" height="19.65" fill="#f23645"/>
<rect x="792.83" y="172.20" width="0.95" height="88.10" fill="#f23645"/>
<rect x="791.46" y="173.40" width="3.7" height="85.50" fill="#f23645"/>
<rect x="798.44" y="225.60" width="0.95" height="66.20" fill="#f23645"/>
<rect x="797.06" y="258.75" width="3.7" height="14.45" fill="#f23645"/>
<rect x="804.04" y="263.90" width="0.95" height="42.90" fill="#089981"/>
<rect x="802.66" y="269.00" width="3.7" height="4.20" fill="#089981"/>
<rect x="809.64" y="267.80" width="0.95" height="9.00" fill="#f23645"/>
<rect x="808.26" y="269.00" width="3.7" height="7.80" fill="#f23645"/>
<rect x="815.24" y="262.30" width="0.95" height="52.50" fill="#089981"/>
<rect x="813.86" y="262.30" width="3.7" height="14.50" fill="#089981"/>
<rect x="820.84" y="231.60" width="0.95" height="36.20" fill="#089981"/>
<rect x="819.46" y="236.10" width="3.7" height="26.70" fill="#089981"/>
<rect x="826.44" y="221.20" width="0.95" height="52.60" fill="#f23645"/>
<rect x="825.07" y="236.10" width="3.7" height="20.50" fill="#f23645"/>
<rect x="832.04" y="249.00" width="0.95" height="101.90" fill="#f23645"/>
<rect x="830.67" y="256.40" width="3.7" height="80.30" fill="#f23645"/>
<rect x="837.64" y="284.00" width="0.95" height="69.30" fill="#089981"/>
<rect x="836.27" y="309.00" width="3.7" height="27.70" fill="#089981"/>
<rect x="843.24" y="309.20" width="0.95" height="6.60" fill="#f23645"/>
<rect x="841.87" y="309.20" width="3.7" height="3.50" fill="#f23645"/>
<rect x="848.84" y="286.20" width="0.95" height="26.50" fill="#089981"/>
<rect x="847.47" y="289.20" width="3.7" height="23.50" fill="#089981"/>
<rect x="854.45" y="281.80" width="0.95" height="28.80" fill="#f23645"/>
<rect x="853.07" y="289.20" width="3.7" height="9.50" fill="#f23645"/>
<rect x="860.05" y="230.80" width="0.95" height="69.90" fill="#089981"/>
<rect x="858.67" y="253.30" width="3.7" height="45.40" fill="#089981"/>
<rect x="865.65" y="227.00" width="0.95" height="70.80" fill="#f23645"/>
<rect x="864.27" y="253.30" width="3.7" height="7.50" fill="#f23645"/>
<rect x="871.25" y="248.00" width="0.95" height="33.50" fill="#f23645"/>
<rect x="869.87" y="260.00" width="3.7" height="5.80" fill="#f23645"/>
<rect x="876.85" y="263.90" width="0.95" height="5.80" fill="#089981"/>
<rect x="875.47" y="263.90" width="3.7" height="1.90" fill="#089981"/>
<rect x="882.45" y="252.50" width="0.95" height="30.40" fill="#f23645"/>
<rect x="881.08" y="263.90" width="3.7" height="14.30" fill="#f23645"/>
<rect x="888.05" y="275.70" width="0.95" height="15.30" fill="#f23645"/>
<rect x="886.68" y="278.05" width="3.7" height="12.95" fill="#f23645"/>
</svg></div>
<div class="leg" style="top:32px;left:17px;letter-spacing:-0.14px">DAX Index · 4h · FX</div>
<div class="leg" style="top:32px;left:119.6px">O</div><div class="leg r" style="top:32px;left:127.3px">22,585.04</div>
<div class="leg" style="top:32px;left:183.4px">H</div><div class="leg r" style="top:32px;left:191.1px">22,594.79</div>
<div class="leg" style="top:32px;left:246.7px">L</div><div class="leg r" style="top:32px;left:254.0px">22,528.04</div>
<div class="leg" style="top:32px;left:308.4px">C</div><div class="leg r" style="top:32px;left:315.6px">22,528.04</div>
<div class="leg r" style="top:32px;left:372.3px;letter-spacing:-0.25px">−57.00 (−0.25%)</div>
<div class="leg" style="top:48px">Vol</div><div class="leg" style="top:48px;left:38.9px;color:#ef5350">521</div>
<div class="pl" style="top:45.9px">23,600.00</div>
<div class="pl" style="top:89.9px">23,400.00</div>
<div class="pl" style="top:133.9px">23,200.00</div>
<div class="pl" style="top:177.9px">23,000.00</div>
<div class="pl" style="top:221.9px">22,800.00</div>
<div class="pl" style="top:265.9px">22,600.00</div>
<div class="pl" style="top:309.9px">22,400.00</div>
<div class="pl" style="top:353.9px">22,200.00</div>
<div class="pl" style="top:397.9px">22,000.00</div>
<div class="pl" style="top:441.9px">21,800.00</div>
<div class="pl" style="top:486.0px">21,600.00</div>
<div class="pl" style="top:530.0px">21,400.00</div>

<div style="position:absolute;left:9.5px;top:587px;width:40px;height:18px;overflow:hidden"><div class="tl" style="top:0;left:-31.3px">5</div></div>
<div class="tl" style="left:46.2px">7</div>
<div class="tl" style="left:113.4px">11</div>
<div class="tl" style="left:180.6px">13</div>
<div class="tl" style="left:247.8px">17</div>
<div class="tl" style="left:315.0px">19</div>
<div class="tl" style="left:382.2px">21</div>
<div class="tl" style="left:449.5px">25</div>
<div class="tl" style="left:516.7px">27</div>
<div class="tl b" style="left:583.9px">Mar</div>
<div class="tl" style="left:651.1px">5</div>
<div class="tl" style="left:718.3px">7</div>
<div class="tl" style="left:785.5px">11</div>
<div class="tl" style="left:852.8px">13</div>

<div class="ptag"><div style="top:1px;letter-spacing:-0.12px">22,528.04</div><div style="top:14px;opacity:.85;letter-spacing:-0.05px">02:54:25</div></div>
<div class="vtag"><div>521</div></div>
<svg class="bolt" style="left:878px;top:559px" width="22" height="22" viewBox="0 0 22 22"><circle cx="10.5" cy="10.4" r="9.1" fill="#fff" stroke="#9c27b0" stroke-width="1.35"/><path d="M13.9 5.1 L12.5 5.1 L6.4 11.3 L10.1 11.3 L7.1 16.1 L8.5 16.1 L14.8 9.6 L11.1 9.6 Z" fill="#9c27b0"/></svg>
<svg class="logo" width="20" height="12" viewBox="0 0 36 28" style="top:619px;height:10px;width:18px" preserveAspectRatio="none"><path d="M14 22H7V11H0V4h14v18zM28 22h-8l7.5-18h8L28 22z" fill="#131722" transform="translate(0,-4) scale(1,1.55)"/><circle cx="20" cy="8" r="4" fill="#131722" transform="translate(0,-4) scale(1,1.55)"/></svg>
<div class="logotxt">TradingView</div>
</body></html>
